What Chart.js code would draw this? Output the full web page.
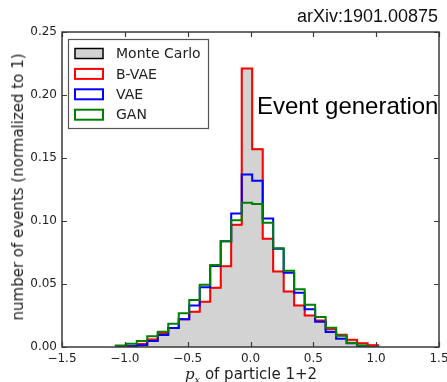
<!DOCTYPE html>
<html>
<head>
<meta charset="utf-8">
<script src="https://cdn.jsdelivr.net/npm/chart.js@4/dist/chart.umd.min.js"></script>
<style>
  html, body { margin: 0; padding: 0; background: #fff; }
  #wrap { position: relative; width: 447px; height: 382px; overflow: hidden; }
  #c { position: absolute; left: 0; top: 0; }
  .txt { position: absolute; white-space: nowrap; color: #000; }
  #arxiv { right: 9px; top: 6px; font: 18px "Liberation Sans", Arial, sans-serif; color: #111; }
  #evgen { left: 257px; top: 92px; font: 24px "Liberation Sans", Arial, sans-serif; color: #000; }
  #ytitle { left: 18px; top: 187px; transform: translate(-50%, -50%) rotate(-90deg); font: 15px "DejaVu Sans", sans-serif; color: #222; }
  #xtitle { left: 251px; top: 375px; transform: translate(-50%, -50%); font: 15px "DejaVu Sans", sans-serif; color: #222; }
  #xtitle i { font-family: "DejaVu Serif", serif; }
  #xtitle sub { font-size: 10px; font-style: italic; font-family: "DejaVu Serif", serif; }
</style>
</head>
<body>
<div id="wrap">
  <canvas id="c" width="447" height="382"></canvas>
  <div class="txt" id="arxiv">arXiv:1901.00875</div>
  <div class="txt" id="evgen">Event generation</div>
  <div class="txt" id="ytitle">number of events (normalized to 1)</div>
  <div class="txt" id="xtitle"><i>p</i><sub>x</sub> of particle 1+2</div>
</div>
<script>
// Bin edges (25 bins)
const binEdges = [-1.072, -0.9885, -0.905, -0.8215, -0.738, -0.6545, -0.571, -0.4875, -0.404, -0.3205,
                  -0.237, -0.1535, -0.070, 0.0135, 0.097, 0.1805, 0.264, 0.3475, 0.431, 0.5145,
                  0.598, 0.6815, 0.765, 0.8485, 0.932, 1.0155];

const seriesNames = ["Monte Carlo", "B-VAE", "VAE", "GAN"];
const seriesColors = ["#000000", "#ff0000", "#0000ff", "#008000"];

const monteCarlo = [0.0003, 0.0006, 0.0024, 0.006, 0.011, 0.015, 0.022, 0.028, 0.036, 0.047,
                    0.064, 0.097, 0.221, 0.157, 0.086, 0.060, 0.044, 0.033, 0.025, 0.021,
                    0.014, 0.0098, 0.0058, 0.0029, 0.0014];
const bVae       = [0.0003, 0.0006, 0.0024, 0.006, 0.011, 0.015, 0.022, 0.028, 0.036, 0.047,
                    0.064, 0.097, 0.221, 0.157, 0.086, 0.060, 0.044, 0.033, 0.025, 0.021,
                    0.014, 0.0098, 0.0058, 0.0029, 0.0014];
const vae        = [0.0, 0.0005, 0.0013, 0.0048, 0.0095, 0.015, 0.022, 0.033, 0.0474, 0.0643,
                    0.084, 0.106, 0.137, 0.132, 0.102, 0.078, 0.059, 0.043, 0.030, 0.020,
                    0.012, 0.0065, 0.0029, 0.0008, 0.0];
const gan        = [0.0012, 0.0025, 0.0048, 0.0085, 0.0122, 0.0185, 0.0267, 0.0373, 0.0495, 0.065,
                    0.084, 0.1005, 0.1145, 0.1135, 0.0987, 0.0783, 0.0606, 0.0458, 0.0335, 0.0238,
                    0.0152, 0.009, 0.0032, 0.0012, 0.0];

const xTicks = [-1.5, -1.0, -0.5, 0.0, 0.5, 1.0, 1.5];
const yTicks = [0.00, 0.05, 0.10, 0.15, 0.20, 0.25];

// histogram outline points (step-before): baseline, each bin's left edge, last edge, baseline
function stepPoints(vals) {
  const pts = [{x: binEdges[0], y: 0}];
  for (let i = 0; i < vals.length; i++) pts.push({x: binEdges[i], y: vals[i]});
  pts.push({x: binEdges[binEdges.length - 1], y: vals[vals.length - 1]});
  pts.push({x: binEdges[binEdges.length - 1], y: 0});
  return pts;
}

const FRAME = '#3a3a3a';
const MC_FILL = '#d3d3d3';

const framePlugin = {
  id: 'frameTicks',
  afterDatasetsDraw(chart) {
    const {ctx, chartArea: a, scales} = chart;
    ctx.save();
    ctx.strokeStyle = FRAME;
    ctx.lineWidth = 1.2;
    ctx.beginPath();
    xTicks.forEach(v => {
      const px = Math.round(scales.x.getPixelForValue(v)) + 0.5;
      ctx.moveTo(px, a.bottom); ctx.lineTo(px, a.bottom - 5);
      ctx.moveTo(px, a.top); ctx.lineTo(px, a.top + 5);
    });
    yTicks.forEach(v => {
      const py = Math.round(scales.y.getPixelForValue(v)) + 0.5;
      ctx.moveTo(a.left, py); ctx.lineTo(a.left + 5, py);
      ctx.moveTo(a.right, py); ctx.lineTo(a.right - 5, py);
    });
    ctx.stroke();
    ctx.lineWidth = 1.5;
    ctx.strokeRect(a.left, a.top, a.right - a.left, a.bottom - a.top);
    ctx.restore();
  },
  afterDraw(chart) {
    // legend inside the axes (upper left)
    const ctx = chart.ctx;
    const bx = 68, by = 39, bw = 140, bh = 89;
    ctx.save();
    ctx.fillStyle = '#fff';
    ctx.fillRect(bx, by, bw, bh);
    ctx.strokeStyle = '#555';
    ctx.lineWidth = 1.2;
    ctx.strokeRect(bx + 0.5, by + 0.5, bw, bh);
    ctx.font = '14px "DejaVu Sans", sans-serif';
    ctx.textBaseline = 'middle';
    ctx.textAlign = 'left';
    for (let i = 0; i < seriesNames.length; i++) {
      const cy = 53.5 + i * 20.4;
      ctx.fillStyle = i === 0 ? MC_FILL : '#ffffff';
      ctx.fillRect(75, cy - 5, 28, 10);
      ctx.strokeStyle = seriesColors[i];
      ctx.lineWidth = i === 0 ? 1.5 : 2;
      ctx.strokeRect(75, cy - 5, 28, 10);
      ctx.fillStyle = '#222';
      ctx.fillText(seriesNames[i], 116, cy + 1);
    }
    ctx.restore();
  }
};

const fmtMinus = s => s.replace('-', '\u2212');

new Chart(document.getElementById('c'), {
  type: 'line',
  data: {
    datasets: [
      {label: seriesNames[0], data: stepPoints(monteCarlo), stepped: 'before', borderColor: seriesColors[0],
       borderWidth: 1, backgroundColor: MC_FILL, fill: 'origin', pointRadius: 0, order: 4},
      {label: seriesNames[1], data: stepPoints(bVae), stepped: 'before', borderColor: seriesColors[1],
       borderWidth: 2, fill: false, pointRadius: 0, order: 3},
      {label: seriesNames[2], data: stepPoints(vae), stepped: 'before', borderColor: seriesColors[2],
       borderWidth: 2, fill: false, pointRadius: 0, order: 2},
      {label: seriesNames[3], data: stepPoints(gan), stepped: 'before', borderColor: seriesColors[3],
       borderWidth: 2, fill: false, pointRadius: 0, order: 1}
    ]
  },
  options: {
    responsive: false,
    animation: false,
    devicePixelRatio: 1,
    layout: {padding: {top: 32, right: 8, left: 0, bottom: 0}},
    plugins: {legend: {display: false}, tooltip: {enabled: false}},
    scales: {
      x: {
        type: 'linear', min: -1.5, max: 1.5,
        afterFit: s => { s.height = 35; s.paddingLeft = 0; s.paddingRight = 0; },
        afterBuildTicks: s => { s.ticks = xTicks.map(v => ({value: v})); },
        grid: {display: false, drawTicks: false},
        border: {display: false},
        ticks: {padding: 5, color: '#222', font: {family: 'DejaVu Sans', size: 12},
                callback: v => fmtMinus(v.toFixed(1)), maxRotation: 0}
      },
      y: {
        type: 'linear', min: 0, max: 0.25,
        afterFit: s => { s.width = 62; s.paddingTop = 0; s.paddingBottom = 0; },
        afterBuildTicks: s => { s.ticks = yTicks.map(v => ({value: v})); },
        grid: {display: false, drawTicks: false},
        border: {display: false},
        ticks: {padding: 5, color: '#222', font: {family: 'DejaVu Sans', size: 12},
                callback: v => v.toFixed(2)}
      }
    }
  },
  plugins: [framePlugin]
});
</script>
</body>
</html>
